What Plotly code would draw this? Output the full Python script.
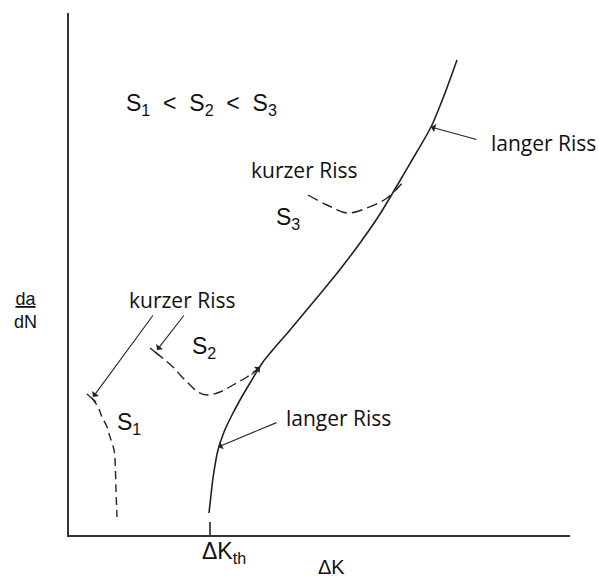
import plotly.graph_objects as go

# Coordinates: x = ΔK (pixel offset from the y axis), y = da/dN (pixel offset above the x axis)
X0, Y0 = 69, 535
W, H = 501, 522
def cx(v): return [p - X0 for p in v]
def cy(v): return [Y0 - p for p in v]

# long crack curve (langer Riss)
long_x = [209, 211, 213, 218, 224, 232, 240, 250, 263, 290, 315, 338, 360, 380, 398, 415, 431, 445, 457]
long_y = [513, 495, 478, 450, 432, 415, 400, 383, 362, 330, 300, 272, 243, 214, 184, 155, 127, 93, 60]
# threshold tick
th_x = [210, 210]
th_y = [522, 535]
# short crack S1
s1_x = [92, 98, 102, 107, 110, 114, 115, 116, 117]
s1_y = [398, 407, 417, 427, 437, 450, 460, 490, 517]
# short crack S2
s2_x = [155, 165, 173, 182, 190, 198, 207, 220, 233, 247, 260]
s2_y = [352, 360, 367, 377, 385, 392, 395, 392, 385, 377, 367]
# short crack S3
s3_x = [308, 327, 347, 367, 387, 403]
s3_y = [195, 205, 213, 208, 198, 182]
# start ticks
tick1_x = [87, 96]
tick1_y = [394, 402]
tick2_x = [150, 160]
tick2_y = [348, 356]

col = "#222222"
fig = go.Figure()
fig.add_trace(go.Scatter(x=cx(long_x), y=cy(long_y), mode="lines", line=dict(color=col, width=1.6, shape="spline", smoothing=0.8)))
fig.add_trace(go.Scatter(x=cx(th_x), y=cy(th_y), mode="lines", line=dict(color=col, width=1.6)))
fig.add_trace(go.Scatter(x=cx(s1_x), y=cy(s1_y), mode="lines", line=dict(color=col, width=1.4, dash="8px,5px", shape="spline")))
fig.add_trace(go.Scatter(x=cx(s2_x), y=cy(s2_y), mode="lines", line=dict(color=col, width=1.4, dash="10px,5px", shape="spline")))
fig.add_trace(go.Scatter(x=cx(s3_x), y=cy(s3_y), mode="lines", line=dict(color=col, width=1.4, dash="11px,5px", shape="spline")))
fig.add_trace(go.Scatter(x=cx(tick1_x), y=cy(tick1_y), mode="lines", line=dict(color=col, width=1.4)))
fig.add_trace(go.Scatter(x=cx(tick2_x), y=cy(tick2_y), mode="lines", line=dict(color=col, width=1.4)))

# arrows: (tip_x, tip_y, tail_x, tail_y)
arrows = [
    (431, 127, 478, 140),
    (93, 397, 154, 314),
    (157, 350, 185, 314),
    (218, 447, 278, 422),
    (260, 367, 250, 376),
]
for tx, ty, ax, ay in arrows:
    fig.add_annotation(x=tx - X0, y=Y0 - ty, ax=ax - X0, ay=Y0 - ay, xref="x", yref="y", axref="x", ayref="y",
                       showarrow=True, arrowhead=1, arrowsize=1.3, arrowwidth=1.1, arrowcolor=col, text="", standoff=0)

riss_font = dict(family="Open Sans", size=21, color="#111")
sans = dict(family="Liberation Sans", size=23, color="#111")
labels = [
    (182, 300, "kurzer Riss", riss_font),
    (304, 170, "kurzer Riss", riss_font),
    (543, 143, "langer Riss", riss_font),
    (338, 418, "langer Riss", riss_font),
    (201, 104, "S<sub>1</sub>  &lt;  S<sub>2</sub>  &lt;  S<sub>3</sub>", sans),
    (288, 218, "S<sub>3</sub>", sans),
    (204, 347, "S<sub>2</sub>", sans),
    (129, 423, "S<sub>1</sub>", sans),
    (224, 552, "ΔK<sub>th</sub>", sans),
    (331, 567, "ΔK", dict(family="Liberation Sans", size=20, color="#111")),
]
for x, y, t, f in labels:
    fig.add_annotation(x=(x - X0) / W, y=(Y0 - y) / H, xref="paper", yref="paper", text=t, showarrow=False,
                       font=f, xanchor="center", yanchor="middle")

fig.add_annotation(x=(25 - X0) / W, y=(Y0 - 311) / H, xref="paper", yref="paper", text="<u>da</u><br>dN",
                   showarrow=False, font=dict(family="Liberation Sans", size=18, color="#111"), align="center",
                   xanchor="center", yanchor="middle")

fig.update_layout(
    width=599, height=579, margin=dict(l=69, r=29, t=13, b=44),
    paper_bgcolor="white", plot_bgcolor="white", showlegend=False,
    xaxis=dict(range=[0, W], showgrid=False, zeroline=False, showticklabels=False, ticks="",
               showline=True, linecolor="#333", linewidth=2, fixedrange=True),
    yaxis=dict(range=[0, H], showgrid=False, zeroline=False, showticklabels=False, ticks="",
               showline=True, linecolor="#333", linewidth=2, fixedrange=True),
)
fig.write_html("out.html")
